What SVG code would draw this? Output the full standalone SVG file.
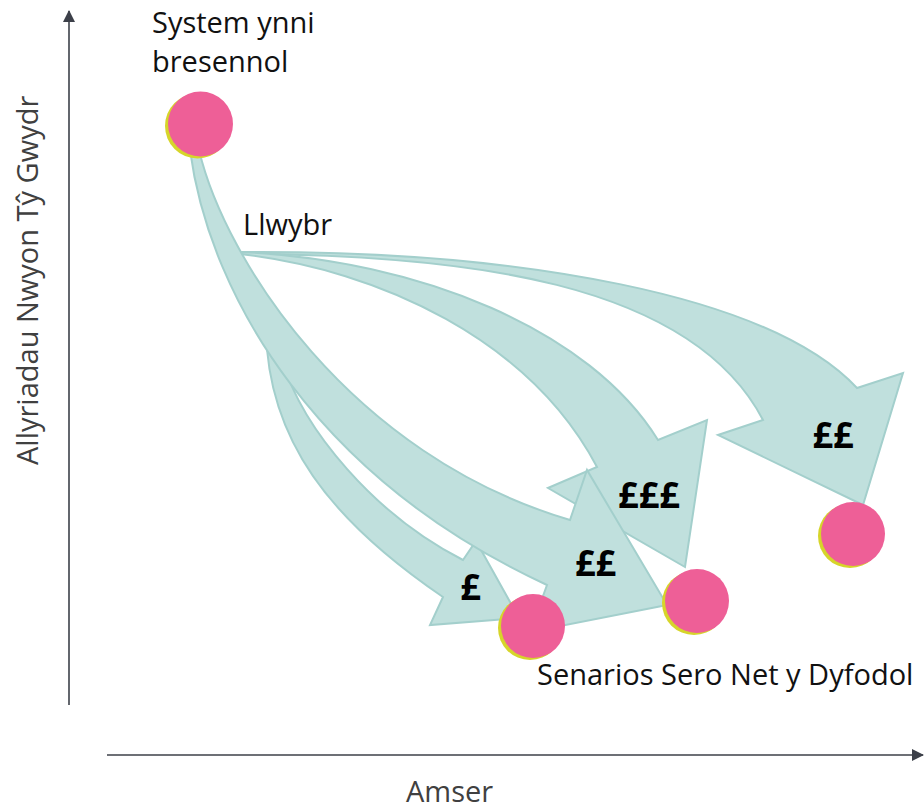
<svg xmlns="http://www.w3.org/2000/svg" width="924" height="810" viewBox="0 0 924 810">
  <style>
    .label { font-family: "Open Sans", "Liberation Sans", sans-serif; font-size: 29px; fill: #111111; }
    .axis-title { font-family: "Open Sans", "Liberation Sans", sans-serif; font-size: 29px; fill: #404040; }
    .cost { font-family: "Open Sans", "Liberation Sans", sans-serif; font-size: 36px; font-weight: 700; fill: #000000; text-anchor: middle; }
    .axis { stroke: #3c4049; stroke-width: 1.6; fill: none; }
    .flow { fill: #c0e0dd; stroke: #a3cfcc; stroke-width: 2; stroke-linejoin: miter; }
    .dot-rim { fill: #d6d52a; }
    .dot { fill: #ee5f97; }
  </style>
  <defs>
    <marker id="axis-head" viewBox="0 0 12 12" refX="11" refY="6" markerWidth="12" markerHeight="12" markerUnits="userSpaceOnUse" orient="auto">
      <path d="M0,0 L12,6 L0,12 Z" fill="#3c4049"/>
    </marker>
  </defs>

  <!-- axes -->
  <g id="axes">
    <line class="axis" x1="69" y1="705" x2="69" y2="11" marker-end="url(#axis-head)"/>
    <line class="axis" x1="107" y1="755" x2="923" y2="755" marker-end="url(#axis-head)"/>
    <text class="axis-title" transform="translate(38,465) rotate(-90)">Allyriadau Nwyon Tŷ Gwydr</text>
    <text class="axis-title" x="406" y="802">Amser</text>
  </g>

  <!-- pathway arrows -->
  <g id="connectors">
    <path id="path-far" class="flow" d="M240,252 C520,250 770,295 857,388 L903,373 L863,505 L718,435 L763,420 C690,280 460,255 240,254 Z"/>
    <path id="path-high" class="flow" d="M240,252 C420,260 590,330 658,440 L707,420 L685,567 L548,488 L597,467 C530,340 380,270 240,254 Z"/>
    <path id="path-low" class="flow" d="M266,330 C268,440 330,520 443,597 L430,625 L519,618 L476,541 L463,560 C375,515 303,430 282,360 Z"/>
    <path id="path-mid" class="flow" d="M199,150 C225,260 350,455 570,520 L587,470 L667,605 L530,632 L547,585 C320,480 210,300 190,150 Z"/>
  </g>

  <!-- cost labels -->
  <g id="costs">
    <text class="cost" x="470.5" y="600">£</text>
    <text class="cost" x="595.5" y="576">££</text>
    <text class="cost" x="649" y="508">£££</text>
    <text class="cost" x="833" y="448">££</text>
  </g>

  <!-- current energy system -->
  <g id="node-current">
    <circle class="dot-rim" cx="197.5" cy="126" r="32.5"/>
    <circle class="dot" cx="200.5" cy="124" r="32.5"/>
    <text class="label" x="152" y="33">System ynni</text>
    <text class="label" x="152" y="72">bresennol</text>
  </g>

  <g id="label-pathway">
    <text class="label" x="243" y="235">Llwybr</text>
  </g>

  <!-- future net zero scenarios -->
  <g id="node-scenario-low">
    <circle class="dot-rim" cx="530" cy="628" r="32"/>
    <circle class="dot" cx="533" cy="626" r="32"/>
  </g>
  <g id="node-scenario-mid">
    <circle class="dot-rim" cx="694" cy="603" r="32"/>
    <circle class="dot" cx="697" cy="601" r="32"/>
  </g>
  <g id="node-scenario-far">
    <circle class="dot-rim" cx="850" cy="536" r="32"/>
    <circle class="dot" cx="853" cy="534" r="32"/>
  </g>
  <g id="label-scenarios">
    <text class="label" x="537" y="685">Senarios Sero Net y Dyfodol</text>
  </g>
</svg>
